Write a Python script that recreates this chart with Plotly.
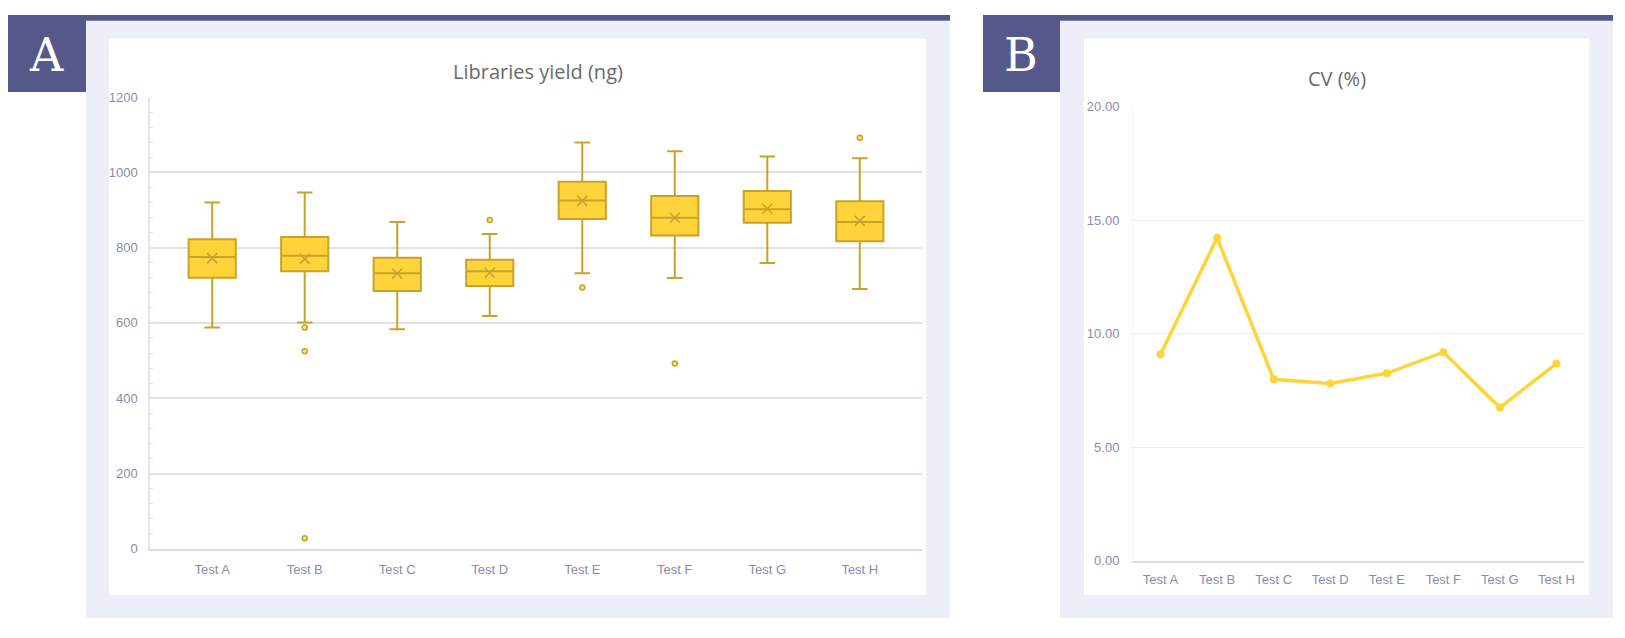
import plotly.graph_objects as go

# the page body keeps an 8px margin on every side, so the figure is made
# 16px smaller than the window and reference pixel positions are shifted
OFF = 8
W, H = 1625 - 2 * OFF, 638 - 2 * OFF

# ---- data ----
tests = ["Test A", "Test B", "Test C", "Test D", "Test E", "Test F", "Test G", "Test H"]

# libraries yield (ng) box stats
q1 = [720, 737, 685, 698, 876, 832, 866, 817]
median = [775, 778, 732, 737, 925, 879, 902, 868]
q3 = [822, 828, 773, 768, 975, 937, 950, 923]
low_whisker = [588, 601, 583, 618, 732, 719, 759, 690]
high_whisker = [920, 946, 868, 836, 1079, 1056, 1042, 1037]
mean = [772, 770, 731, 733, 924, 879, 903, 871]

outlier_test = ["Test B", "Test B", "Test B", "Test D", "Test E", "Test F", "Test H"]
outlier_val = [588, 525, 28, 873, 694, 492, 1092]

# CV (%)
cv = [9.09, 14.22, 7.99, 7.80, 8.25, 9.18, 6.74, 8.68]

# ---- colours ----
DARK = "#56588A"
LIGHT = "#ECEFF8"
GOLD = "#FFD43B"
GOLD_EDGE = "#C9A22B"
TICK = "#8B8BAE"
GRID = "#E1E1EA"


def px(x):
    return (x - OFF) / W


def py(y):
    return 1 - (y - OFF) / H


fig = go.Figure()

# box plot (panel A)
fig.add_trace(go.Box(
    x=tests, q1=q1, median=median, q3=q3,
    lowerfence=low_whisker, upperfence=high_whisker,
    width=0.51, whiskerwidth=0.33,
    fillcolor=GOLD, line=dict(color=GOLD_EDGE, width=2),
    xaxis="x", yaxis="y", showlegend=False, hoverinfo="skip",
))
fig.add_trace(go.Scatter(
    x=tests, y=mean, mode="markers",
    marker=dict(symbol="x-thin-open", size=10, color=GOLD_EDGE,
                line=dict(color=GOLD_EDGE, width=1.5)),
    xaxis="x", yaxis="y", showlegend=False,
))
fig.add_trace(go.Scatter(
    x=outlier_test, y=outlier_val, mode="markers",
    marker=dict(symbol="circle", size=5, color="#FFE27A", line=dict(color=GOLD_EDGE, width=1.5)),
    xaxis="x", yaxis="y", showlegend=False,
))

# CV line (panel B)
fig.add_trace(go.Scatter(
    x=tests, y=cv, mode="lines+markers",
    line=dict(color=GOLD, width=3.5),
    marker=dict(size=8, color=GOLD),
    xaxis="x2", yaxis="y2", showlegend=False,
))

# panel backgrounds
shapes = []
def rect(x0, y0, x1, y1, color):
    shapes.append(dict(type="rect", xref="paper", yref="paper",
                       x0=px(x0), x1=px(x1), y0=py(y1), y1=py(y0),
                       fillcolor=color, line=dict(width=0), layer="below"))

rect(86, 14, 950, 626, LIGHT)
rect(109, 32, 926, 602, "white")
rect(86, 8, 950, 14, DARK)
rect(7, 8, 86, 87, DARK)

rect(1060, 14, 1613, 626, LIGHT)
rect(1084, 32, 1589, 602, "white")
rect(1060, 8, 1613, 14, DARK)
rect(983, 8, 1060, 87, DARK)


def label(text, x, y, font):
    return dict(text=text, x=px(x), y=py(y), xref="paper", yref="paper",
                xanchor="center", yanchor="middle", showarrow=False, font=font)


panel_font = dict(family="DejaVu Serif", size=46, color="white")
title_font = dict(family="Open Sans", size=20, color="#6A6A6A")
annotations = [
    label("A", 46, 49, panel_font),
    label("B", 1021, 49, panel_font),
    label("Libraries yield (ng)", 538, 66, title_font),
    label("CV (%)", 1337, 73, title_font),
]

tickfont = dict(family="Liberation Sans", size=13, color=TICK)

fig.update_layout(
    width=W, height=H,
    margin=dict(l=0, r=0, t=0, b=0),
    paper_bgcolor="white", plot_bgcolor="rgba(0,0,0,0)",
    shapes=shapes, annotations=annotations,
    xaxis=dict(domain=[px(150), px(922)], anchor="y", type="category",
               showgrid=False, showline=True, linecolor="#DCDCE6", linewidth=1.5,
               ticks="", tickfont=tickfont, ticklabelstandoff=8, zeroline=False),
    yaxis=dict(domain=[py(555), py(92)], anchor="x", range=[0, 1200], dtick=200,
               showgrid=True, gridcolor=GRID, gridwidth=1.5,
               showline=True, linecolor="#E4E4EC", linewidth=1.5,
               ticks="", tickfont=tickfont, ticklabelstandoff=8, zeroline=False,
               minor=dict(dtick=40, ticks="inside", ticklen=3, tickcolor="#E0E0E8",
                          showgrid=False)),
    xaxis2=dict(domain=[px(1133), px(1584)], anchor="y2", type="category",
                showgrid=False, showline=True, linecolor="#DDDDE6", linewidth=2,
                ticks="", tickfont=tickfont, ticklabelstandoff=6, zeroline=False),
    yaxis2=dict(domain=[py(567), py(102)], anchor="x2", range=[0, 20], dtick=5,
                tickformat=".2f",
                showgrid=True, gridcolor="#ECECF2", gridwidth=1.2,
                showline=True, linecolor="#F3F3F6", linewidth=1,
                ticks="", tickfont=tickfont, ticklabelstandoff=10, zeroline=False),
)

fig.write_html("out.html")
